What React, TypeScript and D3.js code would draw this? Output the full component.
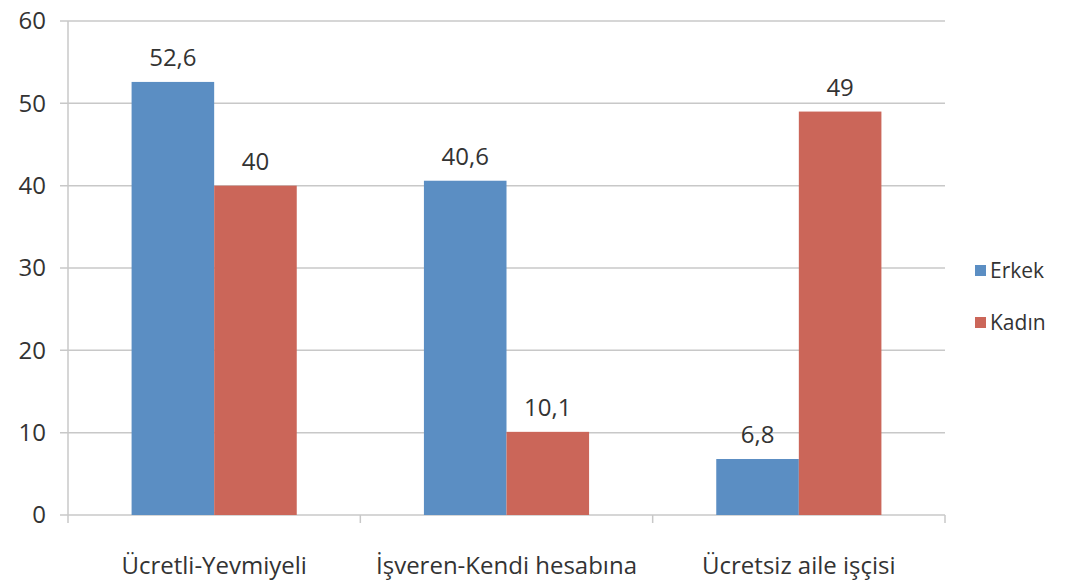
import React from "react";
import * as d3 from "d3";

const categories = ["Ücretli-Yevmiyeli", "İşveren-Kendi hesabına", "Ücretsiz aile işçisi"];
const seriesNames = ["Erkek", "Kadın"];
const erkek = [52.6, 40.6, 6.8];
const kadin = [40, 10.1, 49];
const yTicks = [0, 10, 20, 30, 40, 50, 60];
const colors = ["#5B8EC3", "#CB6659"];

export default function App() {
  const W = 1075, H = 583;
  const left = 68, right = 945, top = 21, bottom = 515;
  const x0 = d3.scaleBand<string>().domain(categories).range([left, right]).paddingInner(0).paddingOuter(0);
  const x1 = d3.scaleBand<string>().domain(seriesNames).range([0, x0.bandwidth()]).paddingOuter(0.77).paddingInner(0);
  const y = d3.scaleLinear().domain([0, 60]).range([bottom, top]);
  const values = [erkek, kadin];
  const font = "'Open Sans', sans-serif";
  const fmt = (v: number) => String(v).replace(".", ",");
  return (
    <svg width={W} height={H} style={{ position: "absolute", left: 0, top: 0, background: "#fff" }}>
      <g fontFamily={font} fill="#333">
        {yTicks.map((t) => (
          <g key={t}>
            <line x1={left - 8} x2={right} y1={y(t)} y2={y(t)} stroke="#c8c8c8" strokeWidth={1.5} />
            <text x={46} y={y(t)} dy="0.35em" textAnchor="end" fontSize={24}>{t}</text>
          </g>
        ))}
        <line x1={left} x2={left} y1={top} y2={bottom} stroke="#c8c8c8" strokeWidth={1.5} />
        {[left, ...categories.map((c) => (x0(c) as number) + x0.bandwidth())].map((xx, i) => (
          <line key={i} x1={xx} x2={xx} y1={bottom} y2={bottom + 8} stroke="#c8c8c8" strokeWidth={1.5} />
        ))}
        {categories.map((c, ci) => (
          <g key={c} transform={`translate(${x0(c)},0)`}>
            {seriesNames.map((s, si) => {
              const v = values[si][ci];
              const bx = x1(s) as number;
              return (
                <g key={s}>
                  <rect x={bx} y={y(v)} width={x1.bandwidth()} height={bottom - y(v)} fill={colors[si]} />
                  <text x={bx + x1.bandwidth() / 2} y={y(v) - 16} textAnchor="middle" fontSize={24}>{fmt(v)}</text>
                </g>
              );
            })}
            <text x={x0.bandwidth() / 2} y={574} textAnchor="middle" fontSize={24}>{c}</text>
          </g>
        ))}
        {seriesNames.map((s, i) => (
          <g key={s} transform={`translate(975,${271 + i * 52})`}>
            <rect x={0} y={-6} width={11} height={11} fill={colors[i]} />
            <text x={15} y={0} dy="0.35em" fontSize={21}>{s}</text>
          </g>
        ))}
      </g>
    </svg>
  );
}
